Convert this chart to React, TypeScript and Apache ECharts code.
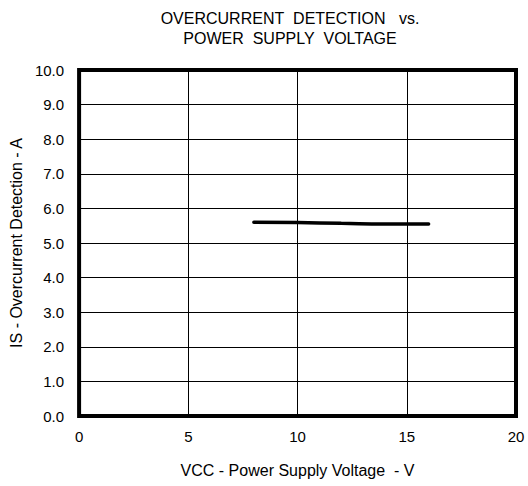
import React, { useEffect, useRef } from "react";
import * as echarts from "echarts";

const vccValues = [8, 10, 12, 14, 16];
const isValues = [5.6, 5.59, 5.57, 5.55, 5.55];
const xTicks = [0, 5, 10, 15, 20];
const yTicks = [0, 1, 2, 3, 4, 5, 6, 7, 8, 9, 10];

export default function App() {
  const ref = useRef<HTMLDivElement>(null);
  useEffect(() => {
    const chart = echarts.init(ref.current!, null, { renderer: "svg" });
    const font = "'Liberation Sans', Arial, sans-serif";
    chart.setOption({
      animation: false,
      backgroundColor: "#ffffff",
      title: {
        text: "OVERCURRENT\u00a0\u00a0DETECTION\u00a0\u00a0\u00a0vs.\nPOWER\u00a0\u00a0SUPPLY\u00a0\u00a0VOLTAGE",
        left: 285,
        textAlign: "center",
        top: 3,
        textStyle: { fontFamily: font, fontSize: 16, fontWeight: "normal", color: "#000", lineHeight: 20 },
      },
      grid: {
        left: 78,
        right: 12,
        top: 70,
        bottom: 70,
        show: true,
        borderColor: "#000",
        borderWidth: 4,
        backgroundColor: "transparent",
      },
      xAxis: {
        type: "value",
        min: 0,
        max: 20,
        interval: 5,
        name: "VCC - Power Supply Voltage  - V",
        nameLocation: "middle",
        nameGap: 46,
        nameTextStyle: { fontFamily: font, fontSize: 16, color: "#000" },
        axisLine: { show: false },
        axisTick: { show: false },
        axisLabel: {
          fontFamily: font,
          fontSize: 15,
          color: "#000",
          margin: 13,
          formatter: (v: number) => (xTicks.includes(v) ? String(v) : ""),
        },
        splitLine: { show: true, lineStyle: { color: "#000", width: 1 } },
      },
      yAxis: {
        type: "value",
        min: 0,
        max: 10,
        interval: 1,
        name: "IS - Overcurrent Detection - A",
        nameLocation: "middle",
        nameGap: 51,
        nameTextStyle: { fontFamily: font, fontSize: 16, color: "#000" },
        axisLine: { show: false },
        axisTick: { show: false },
        axisLabel: {
          fontFamily: font,
          fontSize: 15,
          color: "#000",
          margin: 15,
          formatter: (v: number) => (yTicks.includes(v) ? v.toFixed(1) : ""),
        },
        splitLine: { show: true, lineStyle: { color: "#000", width: 1 } },
      },
      series: [
        {
          type: "line",
          data: vccValues.map((v, i) => [v, isValues[i]]),
          showSymbol: false,
          smooth: true,
          lineStyle: { color: "#000", width: 3.5, cap: "round" },
        },
      ],
    });
    return () => chart.dispose();
  }, []);
  return <div ref={ref} style={{ width: 528, height: 486, position: "absolute", left: 0, top: 0 }} />;
}
